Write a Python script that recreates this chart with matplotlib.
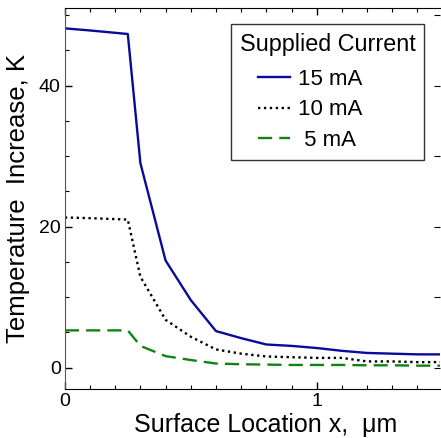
import matplotlib
matplotlib.use("Agg")
import matplotlib.pyplot as plt
from matplotlib.ticker import MultipleLocator

plt.rcParams['font.family'] = ['Liberation Sans', 'DejaVu Sans']

# surface location (um)
x = [0.0, 0.1, 0.25, 0.3, 0.4, 0.5, 0.6, 0.7, 0.8, 0.9, 1.0, 1.1, 1.2, 1.3, 1.4, 1.5]

# temperature increase (K)
t15 = [48.1, 47.8, 47.3, 29.0, 15.2, 9.6, 5.2, 4.2, 3.3, 3.1, 2.8, 2.4, 2.1, 2.0, 1.9, 1.9]
t10 = [21.3, 21.2, 21.0, 12.9, 6.8, 4.4, 2.6, 2.0, 1.6, 1.5, 1.4, 1.4, 0.9, 0.9, 0.8, 0.8]
t5 = [5.3, 5.3, 5.3, 3.1, 1.65, 1.1, 0.6, 0.5, 0.45, 0.4, 0.4, 0.4, 0.35, 0.35, 0.3, 0.3]

labels = ["15 mA      ", "10 mA      ", " 5 mA      "]

fig = plt.figure(figsize=(4.41, 4.38), dpi=100)
ax = fig.add_axes([0.147, 0.112, 0.851, 0.870])

ax.plot(x, t15, color='#0a0a9a', lw=1.7, label=labels[0])
ax.plot(x, t10, color='black', lw=1.7, ls=(0, (1, 1.5)), label=labels[1])
ax.plot(x, t5, color='#128212', lw=1.7, ls=(0, (6, 3)), label=labels[2])

ax.set_xlim(0, 1.49)
ax.set_ylim(-3, 51)

ax.xaxis.set_major_locator(MultipleLocator(1))
ax.xaxis.set_minor_locator(MultipleLocator(0.1))
ax.yaxis.set_major_locator(MultipleLocator(20))
ax.yaxis.set_minor_locator(MultipleLocator(5))
ax.tick_params(which='both', direction='in', top=True, right=False, labelsize=14, pad=3)
ax.tick_params(which='major', length=5, width=1)
ax.tick_params(which='minor', length=3, width=0.8)

# right side: short ticks every 10
sec = ax.secondary_yaxis('right')
sec.yaxis.set_major_locator(MultipleLocator(10))
sec.tick_params(direction='in', length=4, labelright=False)
sec.spines['right'].set_visible(False)
ax.spines['right'].set_visible(False)
ax.spines['left'].set_color('#555555')

ax.set_xlabel("Surface Location x,  \u03bcm", fontsize=18, labelpad=2)
ax.set_ylabel("Temperature  Increase, K", fontsize=18.5, labelpad=6)
ax.xaxis.label.set_x(0.535)

leg = ax.legend(title="Supplied Current", fontsize=16, title_fontsize=16.8,
                loc='upper right', bbox_to_anchor=(0.958, 0.958), borderaxespad=0,
                fancybox=False, edgecolor='#333333', framealpha=1,
                handlelength=1.45, handletextpad=0.35, borderpad=0.4,
                labelspacing=0.42)
leg.get_frame().set_linewidth(1.0)
leg._legend_box.sep = 9.5

fig.savefig("out.png", dpi=100)
